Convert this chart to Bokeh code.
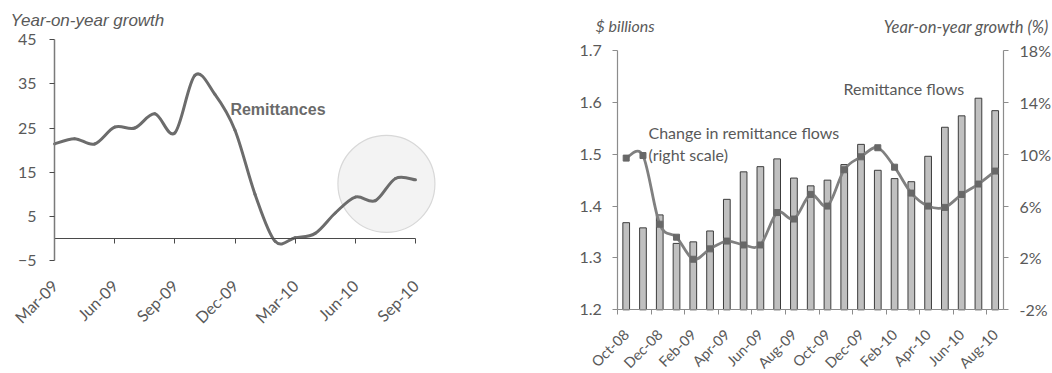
import math
from bokeh.plotting import figure
from bokeh.layouts import row
from bokeh.models import FixedTicker, LinearAxis, Range1d, Label
from bokeh.embed import file_html
from bokeh.resources import INLINE

# ---- Left panel: year-on-year growth of remittances (monthly) ----
growth_months = ["Mar-09", "Apr-09", "May-09", "Jun-09", "Jul-09", "Aug-09", "Sep-09",
                 "Oct-09", "Nov-09", "Dec-09", "Jan-10", "Feb-10", "Mar-10", "Apr-10",
                 "May-10", "Jun-10", "Jul-10", "Aug-10", "Sep-10"]
growth_values = [21.4, 22.6, 21.4, 25.2, 25.0, 28.2, 23.9,
                 36.9, 32.6, 24.5, 10.0, -0.6, 0.2, 1.2,
                 5.8, 9.4, 8.6, 13.6, 13.3]
growth_ticks = [0, 3, 6, 9, 12, 15, 18]
growth_y_ticks = [-5, 5, 15, 25, 35, 45]

# ---- Right panel: monthly remittance flows and their growth ----
flow_months = ["Oct-08", "Nov-08", "Dec-08", "Jan-09", "Feb-09", "Mar-09", "Apr-09",
               "May-09", "Jun-09", "Jul-09", "Aug-09", "Sep-09", "Oct-09", "Nov-09",
               "Dec-09", "Jan-10", "Feb-10", "Mar-10", "Apr-10", "May-10", "Jun-10",
               "Jul-10", "Aug-10"]
flow_billions = [1.368, 1.358, 1.383, 1.328, 1.331, 1.352, 1.413,
                 1.466, 1.476, 1.491, 1.454, 1.439, 1.450, 1.480,
                 1.519, 1.469, 1.453, 1.447, 1.496, 1.552, 1.574,
                 1.608, 1.584]
flow_change_pct = [9.7, 9.9, 4.6, 3.6, 1.9, 2.7, 3.3,
                   3.0, 3.0, 5.5, 5.0, 6.9, 6.0, 8.8,
                   9.8, 10.5, 9.0, 7.0, 6.0, 5.9, 6.9,
                   7.7, 8.7]
flow_y_ticks = [1.2, 1.3, 1.4, 1.5, 1.6, 1.7]
pct_ticks = [-2, 2, 6, 10, 14, 18]

TEXT = "#595959"
LINE = "#6c6c6c"
SANS = "Liberation Sans"
CAL = "Lato"
H = 373


def frame_range(v_a, px_a, v_b, px_b, size):
    """Range whose values v_a / v_b fall on pixels px_a / px_b of a frame `size` px long."""
    k = (v_b - v_a) / (px_b - px_a)
    ends = (v_a - px_a * k, v_a + (size - px_a) * k)
    return Range1d(min(ends), max(ends))


def smooth_segments(xs, ys):
    """Cubic Bezier pieces through every point (spreadsheet-style smoothed line)."""
    n = len(xs)
    seg = {k: [] for k in ("x0", "y0", "x1", "y1", "cx0", "cy0", "cx1", "cy1")}
    for i in range(n - 1):
        xp, yp = (xs[i - 1], ys[i - 1]) if i > 0 else (xs[i], ys[i])
        xn, yn = (xs[i + 2], ys[i + 2]) if i + 2 < n else (xs[i + 1], ys[i + 1])
        seg["x0"].append(xs[i]); seg["y0"].append(ys[i])
        seg["x1"].append(xs[i + 1]); seg["y1"].append(ys[i + 1])
        seg["cx0"].append(xs[i] + (xs[i + 1] - xp) / 6.0)
        seg["cy0"].append(ys[i] + (ys[i + 1] - yp) / 6.0)
        seg["cx1"].append(xs[i + 1] - (xn - xs[i]) / 6.0)
        seg["cy1"].append(ys[i + 1] - (yn - ys[i]) / 6.0)
    return seg


def bare_figure(width, x_range, y_range):
    p = figure(width=width, height=H, x_range=x_range, y_range=y_range,
               output_backend="svg", toolbar_location=None,
               x_axis_location=None, y_axis_location=None,
               min_border=0, min_border_left=0, min_border_right=0,
               min_border_top=0, min_border_bottom=0)
    p.grid.visible = False
    p.outline_line_color = None
    return p


def style_axis(ax, color, size):
    ax.axis_line_color = color
    ax.major_tick_line_color = color
    ax.minor_tick_line_color = None
    ax.major_tick_in = 0
    ax.major_tick_out = 5
    ax.major_label_text_font = CAL
    ax.major_label_text_font_size = size
    ax.major_label_text_color = TEXT


# ================= Left chart =================
W1 = 520
g_x = list(range(len(growth_months)))
p1 = bare_figure(W1, frame_range(0, 54, 18, 415, W1), frame_range(45, 39, -5, 260.3, H))

gy = LinearAxis(fixed_location=0, bounds=(-5, 45), ticker=FixedTicker(ticks=growth_y_ticks))
style_axis(gy, "#7a7a7a", "16px")
gy.axis_line_width = 1.5
gy.major_tick_line_color = "#4a4a4a"
gy.major_label_standoff = 13
p1.add_layout(gy, "left")

gx = LinearAxis(fixed_location=0, bounds=(0, 18),
                ticker=FixedTicker(ticks=growth_ticks),
                major_label_overrides={t: growth_months[t] for t in growth_ticks},
                major_label_orientation=math.pi / 4)
style_axis(gx, "#4a4a4a", "16px")
gx.axis_line_width = 1.2
gx.major_label_standoff = 39
p1.add_layout(gx, "below")

# highlight around the latest months
p1.scatter(x=[16.55], y=[12.4], size=97, marker="circle",
           fill_color="#f3f3f3", line_color="#d8d8d8", line_width=1.2)

gseg = smooth_segments(g_x, growth_values)
p1.bezier(x0=gseg["x0"], y0=gseg["y0"], x1=gseg["x1"], y1=gseg["y1"],
          cx0=gseg["cx0"], cy0=gseg["cy0"], cx1=gseg["cx1"], cy1=gseg["cy1"],
          line_color=LINE, line_width=3, line_cap="round")

p1.add_layout(Label(x=-2.19, y=49.3, text="Year-on-year growth", text_font=SANS,
                    text_font_style="italic", text_font_size="17px",
                    text_color=TEXT, text_baseline="middle"))
p1.add_layout(Label(x=8.77, y=29.2, text="Remittances", text_font=SANS,
                    text_font_style="bold", text_font_size="16px",
                    text_color="#6a6a6a", text_baseline="alphabetic"))

# ================= Right chart =================
W2 = 532
f_x = list(range(len(flow_months)))
p2 = bare_figure(W2, frame_range(0, 105.7, 22, 474.7, W2),
                 frame_range(1.7, 50, 1.2, 309.3, H))
p2.extra_y_ranges = {"pct": frame_range(18, 50, -2, 309.3, H)}

la = LinearAxis(fixed_location=-0.5, bounds=(1.2, 1.7),
                ticker=FixedTicker(ticks=flow_y_ticks),
                major_label_overrides={t: f"{t:.1f}" for t in flow_y_ticks})
ra = LinearAxis(fixed_location=22.5, bounds=(-2, 18), y_range_name="pct",
                ticker=FixedTicker(ticks=pct_ticks),
                major_label_overrides={t: f"{t}%" for t in pct_ticks})
for ax in (la, ra):
    style_axis(ax, "#8c8c8c", "16px")
    ax.axis_line_width = 1.2
    ax.major_label_standoff = 11
p2.add_layout(la, "left")
p2.add_layout(ra, "right")

label_idx = list(range(0, len(flow_months), 2))
boundaries = [i - 0.5 for i in label_idx[:-1]] + [label_idx[-1] - 0.5]
fa = LinearAxis(fixed_location=1.2, bounds=(-0.5, 22.5),
                ticker=FixedTicker(ticks=label_idx, minor_ticks=boundaries),
                major_label_overrides={i: flow_months[i] for i in label_idx},
                major_label_orientation=math.pi / 4)
style_axis(fa, "#8c8c8c", "14.5px")
fa.axis_line_width = 1.2
fa.major_tick_out = 0
fa.minor_tick_out = 5
fa.minor_tick_in = 0
fa.minor_tick_line_color = "#8c8c8c"
fa.major_label_standoff = 17
p2.add_layout(fa, "below")

p2.vbar(x=f_x, top=flow_billions, bottom=1.2, width=0.4,
        fill_color="#c0c0c0", line_color="#3c3c3c", line_width=1)

fseg = smooth_segments(f_x, flow_change_pct)
p2.bezier(x0=fseg["x0"], y0=fseg["y0"], x1=fseg["x1"], y1=fseg["y1"],
          cx0=fseg["cx0"], cy0=fseg["cy0"], cx1=fseg["cx1"], cy1=fseg["cy1"],
          line_color="#808080", line_width=2.8, line_cap="round", y_range_name="pct")
p2.scatter(x=f_x, y=flow_change_pct, marker="square", size=6,
           fill_color="#686868", line_color="#686868", y_range_name="pct")

p2.add_layout(Label(x=-1.83, y=1.748, text="$ billions", text_font=CAL,
                    text_font_style="italic", text_font_size="16px",
                    text_color=TEXT, text_baseline="middle"))
p2.add_layout(Label(x=25.18, y=1.746, text="Year-on-year growth (%)", text_font=CAL,
                    text_font_style="italic", text_font_size="16.5px",
                    text_color=TEXT, text_baseline="middle", text_align="right"))
p2.add_layout(Label(x=12.96, y=1.627, text="Remittance flows", text_font=CAL,
                    text_font_size="16px", text_color=TEXT, text_baseline="middle"))
p2.add_layout(Label(x=1.33, y=1.542, text="Change in remittance flows", text_font=CAL,
                    text_font_size="16px", text_color=TEXT, text_baseline="middle"))
p2.add_layout(Label(x=1.33, y=1.4995, text="(right scale)", text_font=CAL,
                    text_font_size="16px", text_color=TEXT, text_baseline="middle"))

layout = row(p1, p2)
open("out.html", "w").write(file_html(layout, INLINE))
